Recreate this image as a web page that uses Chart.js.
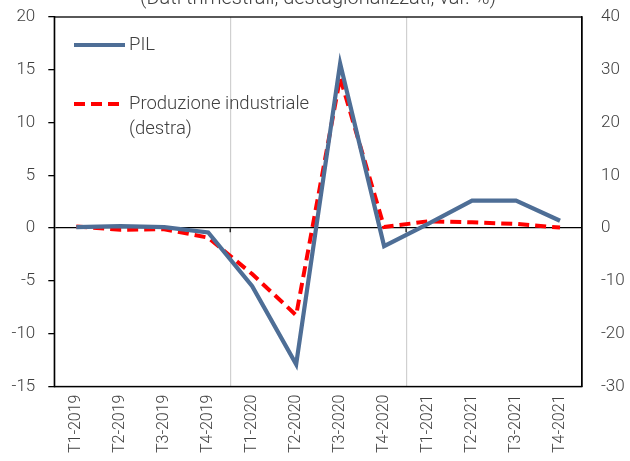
<!DOCTYPE html>
<html>
<head>
<meta charset="utf-8">
<script src="https://cdn.jsdelivr.net/npm/chart.js@4/dist/chart.umd.min.js"></script>
<style>
html,body{margin:0;padding:0;background:#fff;}
#wrap{position:relative;width:630px;height:461px;}
</style>
</head>
<body>
<div id="wrap"><canvas id="c" width="630" height="461"></canvas></div>
<script>
const categories = ["T1-2019","T2-2019","T3-2019","T4-2019","T1-2020","T2-2020","T3-2020","T4-2020","T1-2021","T2-2021","T3-2021","T4-2021"];
const pil = [0.1, 0.2, 0.1, -0.4, -5.5, -12.9, 15.6, -1.7, 0.4, 2.6, 2.6, 0.7];
const produzione = [0.3, -0.3, -0.2, -1.8, -8.7, -16.5, 28.5, 0.2, 1.3, 1.1, 0.8, 0.1];
const leftTicks = [-15, -10, -5, 0, 5, 10, 15, 20];
const rightTicks = [-30, -20, -10, 0, 10, 20, 30, 40];
const titleText = "(Dati trimestrali, destagionalizzati, var. %)";
const legendItems = ["PIL", "Produzione industriale|(destra)"];

const FONT = "Roboto";
const TXT = "#404040";
const BLUE = "#4E6E96";
const RED = "#FF0000";

const decor = {
  id: "decor",
  afterDatasetsDraw(chart) {
    const {ctx, chartArea: a, scales} = chart;
    ctx.save();
    ctx.strokeStyle = "#000";
    ctx.lineWidth = 1.3;
    ctx.strokeRect(a.left, a.top, a.right - a.left, a.bottom - a.top);
    const y0 = scales.y.getPixelForValue(0);
    ctx.lineWidth = 1.2;
    [3.5, 7.5].forEach(v => {
      const x = scales.x.getPixelForValue(v);
      ctx.beginPath(); ctx.moveTo(x, y0); ctx.lineTo(x, y0 + 4); ctx.stroke();
    });
    ctx.fillStyle = TXT;
    ctx.font = "300 20px " + FONT;
    ctx.textAlign = "center";
    ctx.textBaseline = "alphabetic";
    ctx.fillText(titleText, 318, 4);
    const ds = chart.data.datasets;
    const rows = [45, 104];
    ctx.textAlign = "left";
    ctx.textBaseline = "middle";
    ctx.font = "300 18.5px " + FONT;
    legendItems.forEach((lab, i) => {
      const y = rows[i];
      ctx.strokeStyle = ds[i].borderColor;
      ctx.lineWidth = ds[i].borderWidth;
      ctx.setLineDash(ds[i].borderDash || []);
      ctx.lineCap = "butt";
      ctx.beginPath(); ctx.moveTo(74, y); ctx.lineTo(i === 0 ? 125 : 122, y); ctx.stroke();
      ctx.setLineDash([]);
      ctx.fillStyle = TXT;
      lab.split("|").forEach((t, k) => ctx.fillText(t, 129, y + k * 25));
    });
    ctx.restore();
  }
};

const noPad = s => { s.paddingTop = 0; s.paddingBottom = 0; };

new Chart(document.getElementById("c"), {
  type: "line",
  data: {
    labels: categories,
    datasets: [
      {label: "PIL", data: pil, yAxisID: "y", borderColor: BLUE, borderWidth: 4.2, pointRadius: 0, tension: 0, borderJoinStyle: "miter"},
      {label: "Produzione industriale (destra)", data: produzione, yAxisID: "y1", borderColor: RED, borderWidth: 4, borderDash: [11, 6], pointRadius: 0, tension: 0}
    ]
  },
  options: {
    responsive: false,
    animation: false,
    layout: {padding: {top: 17, left: 0, right: 0, bottom: 0}},
    plugins: {legend: {display: false}, title: {display: false}, tooltip: {enabled: false}},
    scales: {
      x: {
        offset: true,
        grid: {
          offset: true,
          drawTicks: false,
          color: c => (c.index === 4 || c.index === 8) ? "#d0d0d0" : "rgba(0,0,0,0)",
          lineWidth: 1.2
        },
        border: {display: true, color: "#000", width: 1.3},
        ticks: {color: TXT, font: {family: FONT, size: 16, weight: "300"}, minRotation: 90, maxRotation: 90, padding: 8, autoSkip: false},
        afterFit: s => { s.height = 74.5; s.paddingLeft = 0; s.paddingRight = 0; }
      },
      y: {
        position: "left",
        min: -15, max: 20,
        afterBuildTicks: s => { s.ticks = leftTicks.map(v => ({value: v})); },
        grid: {
          color: c => (c.tick && c.tick.value === 0) ? "#000" : "rgba(0,0,0,0)",
          tickColor: "#000",
          tickLength: 6,
          lineWidth: 1.3
        },
        border: {display: true, color: "#000", width: 1.3},
        ticks: {color: TXT, font: {family: FONT, size: 17, weight: "300"}, padding: 13},
        afterFit: s => { s.width = 54.3; noPad(s); }
      },
      y1: {
        position: "right",
        min: -30, max: 40,
        afterBuildTicks: s => { s.ticks = rightTicks.map(v => ({value: v})); },
        grid: {display: false, drawOnChartArea: false},
        border: {display: true, color: "#000", width: 1.3},
        ticks: {color: TXT, font: {family: FONT, size: 17, weight: "300"}, padding: 11},
        afterFit: s => { s.width = 48; noPad(s); }
      }
    }
  },
  plugins: [decor]
});
</script>
</body>
</html>
